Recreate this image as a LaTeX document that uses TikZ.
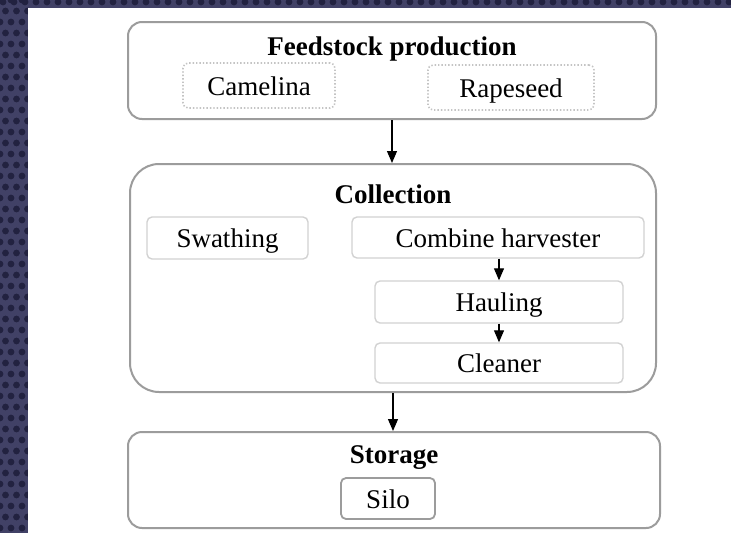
\documentclass[tikz,border=0pt]{standalone}
\usepackage{fontspec}
\setmainfont{Liberation Serif}
\usetikzlibrary{arrows.meta}
\definecolor{bgstrip}{HTML}{414166}
\definecolor{bgdot}{HTML}{222240}
\definecolor{outerline}{HTML}{9C9C9C}
\definecolor{innerline}{HTML}{D2D2D2}
\definecolor{dotline}{HTML}{C4C4C4}
\tikzset{
  container/.style={draw=outerline, line width=2pt, fill=white, inner sep=0pt},
  title/.style={anchor=base, font=\fontsize{27}{32}\selectfont\bfseries, inner sep=0pt},
  item/.style={draw=innerline, line width=1.4pt, rounded corners=5pt, inner sep=0pt,
    font=\fontsize{27}{32}\selectfont, text height=19pt, text depth=0pt},
  dotitem/.style={item, draw=dotline, dotted, line width=1.6pt},
  flow/.style={draw=black, line width=1.2pt, -{Triangle[width=10pt,length=12pt]}},
}
\begin{document}
\begin{tikzpicture}[x=1pt,y=-1pt]
\useasboundingbox (0,0) rectangle (731,533);
% background strips
\fill[bgstrip] (0,0) rectangle (731,8);
\fill[bgstrip] (0,0) rectangle (28,533);
\begin{scope}
\clip (0,0) rectangle (731,8) (0,0) rectangle (28,533);
\foreach \i in {0,...,67}{
  \fill[bgdot] (\i*11+3,2) circle (3.4pt);
}
\foreach \j in {0,...,49}{
  \pgfmathsetmacro{\off}{mod(\j,2)*5.5}
  \fill[bgdot] (\off,\j*11) circle (3.4pt);
  \fill[bgdot] (11+\off,\j*11) circle (3.4pt);
  \fill[bgdot] (22+\off,\j*11) circle (3.4pt);
}
\end{scope}
\fill[white] (28,8) rectangle (731,533);

% containers
\node[container, rounded corners=14pt, minimum width=528pt, minimum height=97pt] (feed) at (392,70.5) {};
\node[container, rounded corners=29pt, minimum width=526pt, minimum height=228pt] (coll) at (393,278) {};
\node[container, rounded corners=14pt, minimum width=532pt, minimum height=96pt] (stor) at (394,480) {};

% titles
\node[title] (feedT) at (392,55) {Feedstock production};
\node[title] (collT) at (393,203) {Collection};
\node[title] (storT) at (394,463) {Storage};

% items
\node[dotitem, minimum width=152pt, minimum height=45pt] (cam) at (259,85.5) {Camelina};
\node[dotitem, minimum width=166pt, minimum height=45pt] (rape) at (511,87.5) {Rapeseed};
\node[item, minimum width=161pt, minimum height=42pt] (swath) at (227.5,238) {Swathing};
\node[item, minimum width=292pt, minimum height=41pt] (comb) at (498,237.5) {Combine harvester};
\node[item, minimum width=248pt, minimum height=42pt] (haul) at (499,302) {Hauling};
\node[item, minimum width=248pt, minimum height=40pt] (clean) at (499,363) {Cleaner};
\node[item, draw=outerline, line width=1.8pt, minimum width=94pt, minimum height=41pt] (silo) at (388,498.5) {Silo};

% connectors
\draw[flow] (feed.south) -- (feed.south |- coll.north);
\draw[flow] (haul.north |- comb.south) -- (haul.north);
\draw[flow] (haul.south) -- (clean.north);
\draw[flow] (coll.south) -- (coll.south |- stor.north);
\end{tikzpicture}
\end{document}
